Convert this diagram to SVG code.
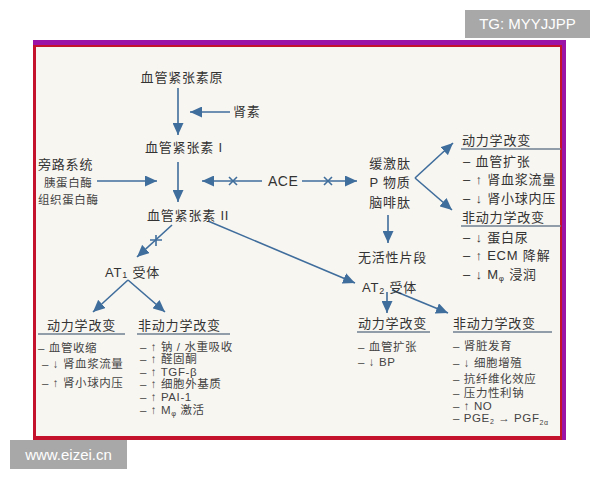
<svg xmlns="http://www.w3.org/2000/svg" width="600" height="480" viewBox="0 0 600 480">
<defs>
<marker id="ah" markerUnits="userSpaceOnUse" markerWidth="13" markerHeight="11" refX="12" refY="5.5" orient="auto">
<path d="M0,0 L12,5.5 L0,11 z" fill="#3f6d9c"/>
</marker>
<style>
.t{font-family:"Liberation Sans","Noto Sans CJK SC",sans-serif;font-size:13px;fill:#333;letter-spacing:0.8px}
.s{font-family:"Liberation Sans","Noto Sans CJK SC",sans-serif;font-size:11.5px;fill:#444;letter-spacing:0.6px}
.c{text-anchor:middle}
.ln{stroke:#3f6d9c;stroke-width:1.6;fill:none}
.ar{stroke:#3f6d9c;stroke-width:1.6;fill:none;marker-end:url(#ah)}
.ul{stroke:#6f7f90;stroke-width:1.5}
.wm{font-family:"Liberation Sans",sans-serif;font-size:15px;fill:#fff}
</style>
</defs>
<rect width="600" height="480" fill="#fff"/>
<!-- frame -->
<rect x="33" y="40" width="533" height="400" fill="#9a12a6"/>
<rect x="33" y="45" width="529" height="395" fill="#c4122c"/>
<rect x="36" y="47" width="524" height="389" fill="#f8f6f1"/>
<!-- watermarks -->
<rect x="465" y="10" width="125" height="28" fill="#a8a8a8"/>
<text class="wm" x="527.5" y="29" text-anchor="middle">TG: MYYJJPP</text>
<rect x="10" y="440" width="117" height="29" fill="#a8a8a8"/>
<text class="wm" x="68.5" y="460" text-anchor="middle">www.eizei.cn</text>

<g id="connectors">
<line class="ar" x1="178" y1="88" x2="178" y2="135"/>
<line class="ar" x1="230" y1="112" x2="190" y2="112"/>
<line class="ar" x1="178" y1="162" x2="178" y2="202"/>
<line class="ar" x1="97" y1="181" x2="157" y2="181"/>
<line class="ar" x1="262" y1="181" x2="202" y2="181"/>
<path class="ln" d="M229,177 L237,185 M229,185 L237,177"/>
<line class="ar" x1="302" y1="181" x2="357" y2="181"/>
<path class="ln" d="M324,177 L332,185 M324,185 L332,177"/>
<line class="ar" x1="172" y1="225" x2="137" y2="257"/>
<path class="ln" d="M156,235 L156,246 M150,240 L162,240"/>
<line class="ar" x1="415" y1="178" x2="453" y2="143"/>
<line class="ar" x1="415" y1="178" x2="452" y2="210"/>
<line class="ar" x1="388" y1="215" x2="388" y2="243"/>
<line class="ar" x1="208" y1="221" x2="355" y2="283"/>
<line class="ar" x1="128" y1="280" x2="93" y2="312"/>
<line class="ar" x1="128" y1="280" x2="165" y2="312"/>
<line class="ar" x1="387" y1="292" x2="387" y2="313"/>
<line class="ar" x1="392" y1="290" x2="448" y2="313"/>
</g>

<g id="angiotensinogen"><text class="t c" x="182" y="82">血管紧张素原</text></g>
<g id="renin"><text class="t" x="233" y="116">肾素</text></g>
<g id="ang1"><text class="t" x="145" y="152">血管紧张素 I</text></g>
<g id="bypass">
<text class="t" x="38" y="169">旁路系统</text>
<text class="s" x="44" y="187">胰蛋白酶</text>
<text class="s" x="38" y="204">组织蛋白酶</text>
</g>
<g id="ang2"><text class="t" x="147" y="220">血管紧张素 II</text></g>
<g id="ace"><text class="t" x="268" y="186" style="font-size:14px;letter-spacing:0.5px">ACE</text></g>
<g id="kinins">
<text class="t c" x="390" y="168">缓激肽</text>
<text class="t c" x="390" y="187">P 物质</text>
<text class="t c" x="390" y="207">脑啡肽</text>
</g>
<g id="inactive"><text class="t" x="358" y="262">无活性片段</text></g>
<g id="kinin-effects">
<text class="t" x="462" y="145">动力学改变</text>
<line class="ul" x1="461" y1="149" x2="561" y2="149"/>
<text class="t" x="463" y="166">– 血管扩张</text>
<text class="t" x="463" y="184">– ↑ 肾血浆流量</text>
<text class="t" x="463" y="203">– ↓ 肾小球内压</text>
<text class="t" x="462" y="222">非动力学改变</text>
<line class="ul" x1="461" y1="226" x2="561" y2="226"/>
<text class="t" x="463" y="242">– ↓ 蛋白尿</text>
<text class="t" x="463" y="260">– ↑ ECM 降解</text>
<text class="t" x="463" y="279">– ↓ M<tspan font-size="8" dy="2">φ</tspan><tspan dy="-2"> 浸润</tspan></text>
</g>
<g id="at1"><text class="t" x="105" y="277">AT<tspan font-size="9" dy="1">1</tspan><tspan dy="-1"> 受体</tspan></text></g>
<g id="at2"><text class="t" x="362" y="292">AT<tspan font-size="9" dy="2">2</tspan><tspan dy="-2"> 受体</tspan></text></g>
<g id="at1-hemo">
<text class="t" x="47" y="330">动力学改变</text>
<line class="ul" x1="38" y1="334" x2="125" y2="334"/>
<text class="s" x="38" y="352">– 血管收缩</text>
<text class="s" x="42" y="368">– ↓ 肾血浆流量</text>
<text class="s" x="42" y="387">– ↑ 肾小球内压</text>
</g>
<g id="at1-nonhemo">
<text class="t" x="138" y="330">非动力学改变</text>
<line class="ul" x1="137" y1="334" x2="230" y2="334"/>
<text class="s" x="140" y="351">– ↑ 钠 / 水重吸收</text>
<text class="s" x="140" y="363">– ↑ 醛固酮</text>
<text class="s" x="140" y="376">– ↑ TGF-β</text>
<text class="s" x="140" y="388">– ↑ 细胞外基质</text>
<text class="s" x="140" y="401">– ↑ PAI-1</text>
<text class="s" x="140" y="414">– ↑ M<tspan font-size="7.5" dy="2">φ</tspan><tspan dy="-2"> 激活</tspan></text>
</g>
<g id="at2-hemo">
<text class="t" x="358" y="328">动力学改变</text>
<line class="ul" x1="357" y1="332" x2="430" y2="332"/>
<text class="s" x="358" y="351">– 血管扩张</text>
<text class="s" x="358" y="366">– ↓ BP</text>
</g>
<g id="at2-nonhemo">
<text class="t" x="453" y="328">非动力学改变</text>
<line class="ul" x1="453" y1="332" x2="552" y2="332"/>
<text class="s" x="453" y="350">– 肾脏发育</text>
<text class="s" x="453" y="367">– ↓ 细胞增殖</text>
<text class="s" x="453" y="383">– 抗纤维化效应</text>
<text class="s" x="453" y="397">– 压力性利钠</text>
<text class="s" x="453" y="410">– ↑ NO</text>
<text class="s" x="453" y="422">– PGE<tspan font-size="7" dy="2">2</tspan><tspan dy="-2"> → PGF</tspan><tspan font-size="7" dy="3">2α</tspan></text>
</g>
</svg>
